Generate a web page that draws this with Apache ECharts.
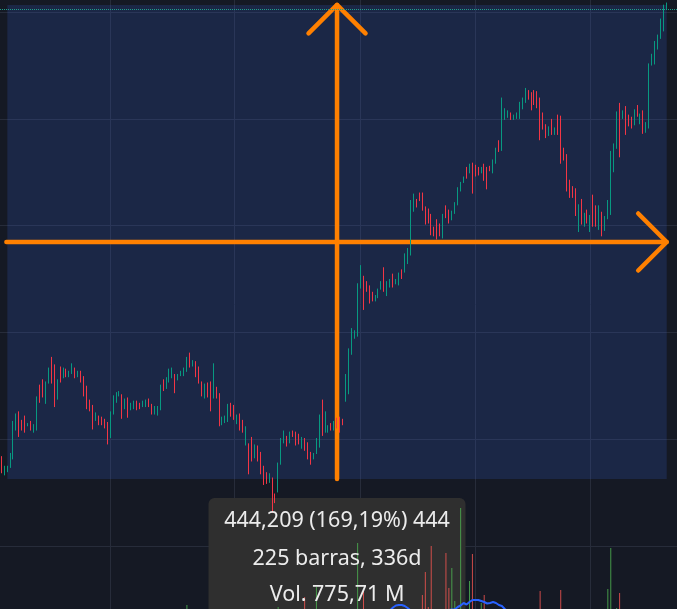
<!DOCTYPE html>
<html>
<head>
<meta charset="utf-8">
<style>
  html, body { margin: 0; padding: 0; background: #151924; }
  #chart { width: 677px; height: 609px; }
</style>
<script src="https://cdn.jsdelivr.net/npm/echarts@6/dist/echarts.min.js"></script>
</head>
<body>
<div id="chart"></div>
<script>
// each row: [open, close, low, high]
const candles = [
  [283,269,268,284],[267,274,266,275],[270,274,269,275],[274,286,273,287],[282,316,281,317],
  [309,323,308,324],[325,303,302,326],[317,309,308,318],[321,307,306,322],[312,315,312,315],
  [316,309,308,317],[307,313,306,314],[309,339,308,340],[350,335,334,351],[355,340,339,356],
  [334,353,333,354],[353,366,352,367],[376,353,352,377],[369,331,330,370],[338,355,337,356],
  [367,354,353,368],[358,366,357,367],[365,359,358,366],[359,363,358,364],[362,370,361,371],
  [366,358,357,367],[359,363,358,364],[363,354,353,364],[358,341,340,359],[349,329,328,350],
  [336,327,326,337],[331,310,309,332],[318,324,317,325],[321,314,313,322],[320,314,313,321],
  [318,311,310,319],[315,296,295,316],[302,325,301,326],[324,340,323,341],[335,343,334,344],
  [340,345,340,345],[341,320,319,342],[329,337,328,338],[338,321,320,339],[328,333,327,334],
  [329,335,328,336],[335,328,327,336],[333,329,328,334],[331,335,330,336],[331,336,330,337],
  [337,331,330,338],[332,324,323,333],[324,330,323,331],[323,330,322,331],[328,350,327,351],
  [355,346,345,356],[348,357,347,358],[354,365,353,366],[358,366,357,367],[360,344,343,361],
  [356,360,355,361],[359,364,359,364],[360,366,359,367],[364,376,363,377],[380,368,367,381],
  [369,373,368,374],[372,359,358,373],[367,353,352,368],[353,341,340,354],[339,351,338,352],
  [352,340,339,353],[353,327,326,354],[339,370,338,371],[348,339,338,349],[342,313,312,343],
  [314,320,313,321],[316,321,315,322],[317,332,316,333],[333,322,321,334],[331,319,318,332],
  [315,322,314,323],[323,309,308,324],[317,307,306,318],[295,311,294,312],[295,268,267,296],
  [301,280,279,302],[283,294,282,295],[293,280,279,294],[287,268,267,288],[274,258,257,275],
  [268,259,258,269],[260,267,259,268],[263,247,231,264],[248,241,240,249],[251,277,250,278],
  [277,300,276,301],[297,307,296,308],[302,294,293,303],[297,306,296,307],[307,303,302,308],
  [306,295,294,307],[304,296,295,305],[292,301,291,302],[300,290,289,301],[296,282,281,297],
  [287,277,276,288],[282,286,281,287],[287,300,286,301],[293,322,292,323],[336,304,303,337],
  [307,325,306,326],[307,312,306,313],[314,309,308,315],[309,316,308,317],[319,311,310,320],
  [320,307,306,321],[318,314,313,319],[336,360,335,361],[343,384,342,385],[380,403,379,404],
  [395,401,394,402],[397,445,396,446],[442,462,441,463],[452,422,421,453],[447,439,438,448],
  [443,428,427,444],[437,430,429,438],[430,434,429,435],[433,440,432,441],[441,447,440,448],
  [460,439,438,461],[435,447,434,448],[443,449,442,450],[454,443,442,455],[445,450,445,450],
  [445,455,444,456],[458,451,450,459],[457,473,456,474],[465,478,464,479],[473,523,472,524],
  [514,529,513,530],[524,518,517,525],[530,524,523,531],[530,515,514,531],[517,502,501,518],
  [515,503,502,516],[510,492,491,511],[498,491,490,499],[505,488,487,506],[501,491,490,502],
  [489,510,488,511],[518,508,507,519],[514,503,502,515],[506,513,505,514],[512,521,511,522],
  [520,535,519,536],[533,540,532,541],[541,545,540,546],[554,545,544,555],[550,557,549,558],
  [558,531,530,559],[556,547,546,557],[554,548,547,555],[550,554,549,555],[557,543,542,558],
  [554,535,534,555],[555,552,551,556],[550,561,549,562],[559,572,558,573],[579,570,569,580],
  [571,619,570,620],[600,609,599,610],[602,607,601,608],[605,600,599,606],[600,603,599,604],
  [601,605,600,606],[601,615,600,616],[610,619,609,620],[616,628,615,629],[626,619,618,627],
  [624,609,608,625],[626,614,613,627],[625,611,610,626],[619,581,580,620],[605,591,590,606],
  [594,583,582,595],[585,592,584,593],[599,586,585,600],[586,591,585,592],[603,586,585,604],
  [602,559,558,603],[572,562,561,573],[566,533,532,567],[542,527,526,543],[536,527,526,537],
  [534,510,509,535],[495,519,494,520],[524,502,501,525],[500,511,499,512],[514,503,502,515],
  [495,509,494,510],[528,500,499,529],[518,500,499,519],[497,518,496,519],[512,491,490,513],
  [496,508,495,509],[507,523,506,524],[511,569,510,570],[551,576,550,577],[573,606,572,607],
  [614,565,564,615],[601,607,600,608],[611,586,585,612],[603,594,593,604],[601,592,591,602],
  [595,608,594,609],[612,603,602,613],[596,604,595,605],[607,587,586,608],[588,596,587,597],
  [592,651,591,652],[651,660,650,661],[652,672,651,673],[666,678,665,679],[676,693,675,694],
  [683,706,682,707],[703,709,703,709]
];

// volume in millions
const volumes = [
  4.1,3.6,3.2,3.9,6.8,5.2,4.7,3.5,3.9,2.8,
  3.1,2.9,5.6,4.4,4.9,4.0,4.6,6.2,6.9,4.8,
  3.7,3.0,2.7,2.9,3.6,3.2,2.6,3.4,4.3,5.1,
  4.2,5.5,3.3,3.0,2.8,3.5,6.1,5.8,4.9,3.6,
  2.9,5.0,3.8,4.6,3.1,2.7,3.0,2.6,2.8,3.2,
  3.4,4.0,3.6,3.9,6.0,4.4,3.9,4.6,3.8,4.9,
  3.3,3.0,3.7,8.8,5.3,3.6,4.8,5.0,5.9,4.1,
  4.4,6.7,7.2,4.0,6.4,3.5,3.2,4.7,4.1,4.5,
  3.6,5.1,4.9,5.5,7.6,6.3,4.2,5.0,6.6,7.4,
  5.7,4.8,7.7,6.9,8.4,7.1,5.3,4.6,4.2,3.8,
  4.9,4.4,5.0,10.4,6.2,5.8,3.9,12.4,7.3,7.9,
  5.6,4.0,3.7,4.2,4.6,5.8,4.3,7.0,7.8,7.5,
  5.1,21.2,7.9,11.8,6.1,6.4,4.8,4.1,4.5,4.9,
  7.2,5.3,4.7,5.9,4.2,5.6,5.4,6.9,6.6,7.8,
  6.9,5.1,6.3,10.8,15.4,8.4,20.6,7.4,7.8,6.6,
  7.7,19.2,12.2,16.2,9.6,7.9,28.2,7.0,7.5,13.6,
  19.0,7.2,6.1,9.2,10.8,7.6,5.2,6.4,7.3,6.8,
  7.8,5.6,4.3,4.0,3.4,3.7,4.9,5.2,5.8,4.6,
  5.1,4.8,5.3,11.6,6.9,5.4,4.2,5.0,3.9,5.6,
  11.8,6.5,7.4,6.8,5.6,7.2,7.6,6.3,5.1,4.7,
  5.5,7.1,6.0,6.4,6.8,5.2,12.0,20.2,7.8,8.2,
  11.2,4.6,6.9,5.3,4.9,5.5,4.7,4.3,6.2,4.8,
  7.7,6.4,6.9,5.8,7.2,7.6,6.1
];

// volume moving average
const volumeMa = [
  4.6,4.6,4.5,4.5,4.6,4.7,4.7,4.6,4.6,4.5,
  4.5,4.4,4.5,4.5,4.6,4.6,4.6,4.7,4.9,5.0,
  4.9,4.8,4.7,4.6,4.5,4.4,4.3,4.2,4.2,4.3,
  4.3,4.4,4.3,4.2,4.1,4.1,4.2,4.3,4.4,4.3,
  4.2,4.2,4.1,4.1,4.0,3.9,3.8,3.7,3.7,3.6,
  3.6,3.6,3.6,3.6,3.7,3.8,3.8,3.9,3.9,4.0,
  4.0,4.0,4.0,4.2,4.3,4.3,4.4,4.5,4.6,4.6,
  4.7,4.8,5.0,5.0,5.1,5.1,5.0,5.0,5.0,5.0,
  5.0,5.0,5.0,5.0,5.1,5.2,5.2,5.3,5.4,5.5,
  5.6,5.6,5.8,5.9,6.1,6.2,6.2,6.1,6.0,5.9,
  5.9,5.9,5.8,6.0,6.0,6.0,5.9,6.2,6.2,6.3,
  6.2,6.0,5.9,5.8,5.8,5.7,5.5,5.6,5.7,5.8,
  5.8,6.6,6.6,7.0,7.0,7.1,7.1,7.1,7.1,7.2,
  7.3,7.4,7.7,8.3,8.7,8.8,8.8,8.6,8.2,7.7,
  7.4,7.2,7.0,7.1,7.4,7.3,7.7,7.6,7.6,7.5,
  7.5,7.7,7.8,7.9,7.9,8.4,8.7,9.2,8.9,9.4,
  9.8,9.8,9.8,9.6,9.4,9.1,9.2,9.4,9.2,8.8,
  8.6,8.0,7.5,7.2,7.0,6.8,6.7,6.6,6.5,6.4,
  6.3,6.2,6.1,6.3,6.2,6.1,6.0,5.9,5.8,5.8,
  6.0,6.0,6.0,6.1,6.1,6.2,6.3,6.3,6.3,6.2,
  6.2,6.3,6.3,6.3,6.4,6.4,6.6,7.0,7.1,7.2,
  7.4,7.3,7.3,7.3,7.2,7.2,7.1,7.0,7.0,6.9,
  6.9,6.9,6.9,6.8,6.8,6.8,6.8
];

const priceGrid = [200, 300, 400, 500, 600, 700];
const timeGrid = [37, 79, 122, 161, 200];
const lastPrice = 703;
const measureStart = [2, 262.55];
const measureEnd = [226, 706.76];
const rangeLines = ['444,209 (169,19%) 444', '225 barras, 336d', 'Vol. 775,71 M'];

const categories = candles.map((c, i) => 'd' + (i + 1)).concat(['e1', 'e2', 'e3']);

const UP = '#089981', DOWN = '#f23645', ORANGE = '#ff8000';

const chart = echarts.init(document.getElementById('chart'));

const hiddenAxis = {
  axisLine: { show: false }, axisTick: { show: false },
  axisLabel: { show: false }, splitLine: { show: false }
};

chart.setOption({
  backgroundColor: '#151924',
  animation: false,
  grid: [
    { left: -1, right: 0, top: 0, bottom: 0 },
    { left: -1, right: 0, top: 459, bottom: 0 }
  ],
  xAxis: [
    Object.assign({ type: 'category', data: categories, gridIndex: 0 }, hiddenAxis),
    Object.assign({ type: 'category', data: categories, gridIndex: 1 }, hiddenAxis)
  ],
  yAxis: [
    Object.assign({ type: 'value', min: 140.8, max: 711.4, gridIndex: 0 }, hiddenAxis),
    // the pane's baseline sits below the visible area, so the bottom edge is at 8
    Object.assign({ type: 'value', min: 8, max: 38, gridIndex: 1 }, hiddenAxis)
  ],
  series: [
    {
      name: 'grid', type: 'line', data: [], xAxisIndex: 0, yAxisIndex: 0,
      markLine: {
        silent: true, z: 0, symbol: 'none', label: { show: false },
        lineStyle: { color: '#272c3a', width: 1, type: 'solid' },
        data: priceGrid.map(v => ({ yAxis: v })).concat(timeGrid.map(i => ({ xAxis: i })))
      }
    },
    {
      name: 'price', type: 'candlestick', data: candles, z: 3,
      xAxisIndex: 0, yAxisIndex: 0, barWidth: 1,
      itemStyle: { color: UP, color0: DOWN, borderColor: UP, borderColor0: DOWN, borderWidth: 1 },
      markArea: {
        silent: true, z: 1,
        itemStyle: { color: 'rgba(54,93,209,0.2)' },
        data: [[{ coord: measureStart }, { coord: measureEnd }]]
      },
      markLine: {
        silent: true, z: 5, symbol: 'none', label: { show: false },
        lineStyle: { color: '#1f9e8c', width: 1, type: 'dotted' },
        data: [{ yAxis: lastPrice }]
      }
    },
    {
      name: 'volume', type: 'bar', data: volumes, z: 3, clip: true,
      xAxisIndex: 1, yAxisIndex: 1, barWidth: 1,
      itemStyle: {
        color: p => candles[p.dataIndex][1] >= candles[p.dataIndex][0]
          ? 'rgba(76,175,80,0.85)' : 'rgba(239,83,80,0.85)'
      }
    },
    {
      name: 'volume ma', type: 'line', data: volumeMa, z: 3, clip: true,
      xAxisIndex: 1, yAxisIndex: 1, symbol: 'none',
      lineStyle: { color: '#2962ff', width: 2 }
    }
  ]
});

// measure drawing: arrows + info box
const a = chart.convertToPixel({ xAxisIndex: 0, yAxisIndex: 0 }, measureStart);
const b = chart.convertToPixel({ xAxisIndex: 0, yAxisIndex: 0 }, measureEnd);
const midX = (a[0] + b[0]) / 2;
const midY = (a[1] + b[1]) / 2;
const arm = 28.5;
const stroke = { stroke: ORANGE, lineWidth: 4.5, fill: null, lineCap: 'round', lineJoin: 'round' };
const boxTop = a[1] + 19;
const font = '21.5px "Noto Sans"';

chart.setOption({
  graphic: { elements: [
    { type: 'polyline', z: 2, shape: { points: [[midX, a[1]], [midX, b[1]]] }, style: stroke },
    { type: 'polyline', z: 2, shape: { points: [[midX - arm, b[1] + arm], [midX, b[1]], [midX + arm, b[1] + arm]] }, style: stroke },
    { type: 'polyline', z: 2, shape: { points: [[a[0] - 1, midY], [b[0], midY]] }, style: stroke },
    { type: 'polyline', z: 2, shape: { points: [[b[0] - arm, midY - arm], [b[0], midY], [b[0] - arm, midY + arm]] }, style: stroke },
    { type: 'rect', z: 2, shape: { x: midX - 128.5, y: boxTop, width: 257, height: 140, r: 6 }, style: { fill: '#2f2f2f' } },
    { type: 'text', z: 10, style: { x: midX, y: boxTop + 23, text: rangeLines[0], fill: '#ececec', font: font, textAlign: 'center', textVerticalAlign: 'middle' } },
    { type: 'text', z: 10, style: { x: midX, y: boxTop + 61, text: rangeLines[1], fill: '#ececec', font: font, textAlign: 'center', textVerticalAlign: 'middle' } },
    { type: 'text', z: 10, style: { x: midX, y: boxTop + 97, text: rangeLines[2], fill: '#ececec', font: font, textAlign: 'center', textVerticalAlign: 'middle' } }
  ] }
});
</script>
</body>
</html>
